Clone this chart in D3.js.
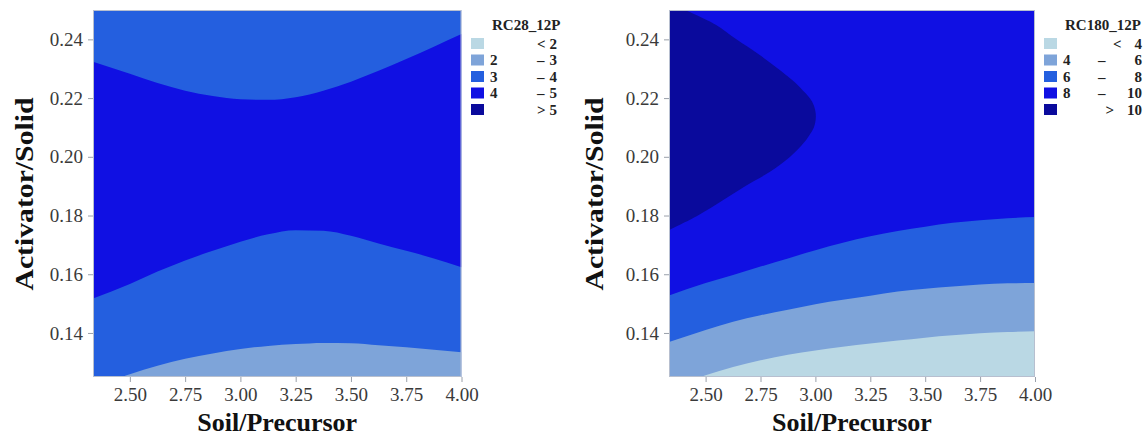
<!DOCTYPE html>
<html><head><meta charset="utf-8">
<script src="https://cdn.jsdelivr.net/npm/d3@7"></script>
<style>body{margin:0;background:#fff}svg{display:block}text{font-family:'Liberation Serif','Times New Roman',serif}</style>
</head><body>
<svg id="c" width="1148" height="437"></svg>
<script>
// ---- data ----
const xDomain = [2.3333, 4.0];
const yDomain = [0.125, 0.25];
const xTicks = [2.5, 2.75, 3.0, 3.25, 3.5, 3.75, 4.0];
const yTicks = [0.14, 0.16, 0.18, 0.20, 0.22, 0.24];

// x positions at which contour lines were read
const xSamples = [2.3333, 2.5, 2.625, 2.75, 2.875, 3.0, 3.125, 3.25, 3.375, 3.5, 3.625, 3.75, 3.875, 4.0];

// RC28_12P contour lines (Activator/Solid value at each xSample)
const rc28Level4Upper = [0.2324, 0.2283, 0.2251, 0.2225, 0.2207, 0.2196, 0.2194, 0.2203, 0.2225, 0.2256, 0.2293, 0.2333, 0.2375, 0.2418];
const rc28Level4Lower = [0.1517, 0.1567, 0.1609, 0.1647, 0.1680, 0.1711, 0.1736, 0.1750, 0.1748, 0.1731, 0.1705, 0.1680, 0.1654, 0.1624];
const rc28Level3Lower = [0.1215, 0.1259, 0.1288, 0.1312, 0.1330, 0.1345, 0.1356, 0.1362, 0.1366, 0.1365, 0.1358, 0.1351, 0.1343, 0.1334];

// RC180_12P contour lines
const rc180Level8 = [0.1528, 0.1570, 0.1597, 0.1626, 0.1654, 0.1682, 0.1707, 0.1729, 0.1747, 0.1762, 0.1775, 0.1784, 0.1791, 0.1795];
const rc180Level6 = [0.1369, 0.1410, 0.1438, 0.1460, 0.1479, 0.1498, 0.1513, 0.1527, 0.1541, 0.1551, 0.1558, 0.1565, 0.1569, 0.1570];
const rc180Level4 = [0.1215, 0.1256, 0.1284, 0.1307, 0.1326, 0.1340, 0.1353, 0.1364, 0.1374, 0.1384, 0.1392, 0.1399, 0.1403, 0.1406];
// level-10 region (Soil/Precursor edge read at each Activator/Solid value)
const rc180Level10Y = [0.25, 0.245, 0.24, 0.235, 0.23, 0.225, 0.2225, 0.22, 0.2175, 0.215, 0.2125, 0.21, 0.2075, 0.205, 0.20, 0.195, 0.19, 0.185, 0.18, 0.175];
const rc180Level10X = [2.406, 2.546, 2.640, 2.740, 2.830, 2.912, 2.944, 2.974, 2.993, 3.001, 3.001, 2.993, 2.974, 2.950, 2.885, 2.795, 2.680, 2.575, 2.465, 2.3333];

// legends
const rc28LegendLow = ["", "2", "3", "4", ""];
const rc28LegendHigh = ["< 2", "– 3", "– 4", "– 5", "> 5"];
const rc180LegendLow = ["", "4", "6", "8", ""];
const rc180LegendHigh = ["< 4", "– 6", "– 8", "– 10", "> 10"];
const bandColors = ["#bad8e4", "#7ea4d9", "#245fdf", "#1010e3", "#0a0a9c"];

// ---- drawing ----
const svg = d3.select("#c");
const serif = "'Liberation Serif','Times New Roman',serif";

function panel(opt) {
  const x = d3.scaleLinear().domain(xDomain).range([opt.left, opt.right]);
  const y = d3.scaleLinear().domain(yDomain).range([377, 10]);
  const g = svg.append("g");
  const clipId = "clip" + opt.id;
  svg.append("clipPath").attr("id", clipId).append("rect")
    .attr("x", opt.left).attr("y", 10).attr("width", opt.right - opt.left).attr("height", 367);
  const plot = g.append("g").attr("clip-path", `url(#${clipId})`);
  plot.append("rect").attr("x", opt.left).attr("y", 10)
    .attr("width", opt.right - opt.left).attr("height", 367).attr("fill", opt.base);
  opt.draw(plot, x, y);
  g.append("rect").attr("x", opt.left + 0.5).attr("y", 10.5)
    .attr("width", opt.right - opt.left - 1).attr("height", 366)
    .attr("fill", "none").attr("stroke", "#b7bfcf").attr("stroke-width", 1);

  const ax = g.append("g").attr("transform", "translate(0,377)")
    .call(d3.axisBottom(x).tickValues(xTicks).tickFormat(d3.format(".2f")).tickSize(5).tickPadding(6));
  const ay = g.append("g").attr("transform", `translate(${opt.left},0)`)
    .call(d3.axisLeft(y).tickValues(yTicks).tickFormat(d3.format(".2f")).tickSize(5).tickPadding(5));
  [ax, ay].forEach(a => {
    a.attr("font-family", serif).attr("font-size", 19);
    a.select(".domain").remove();
    a.selectAll(".tick line").attr("stroke", "#9aa0aa");
    a.selectAll(".tick text").attr("fill", "#3a3a3a").attr("font-family", serif)
      .style("font-family", serif).style("font-size", "19px");
  });

  g.append("text").attr("x", (opt.left + opt.right) / 2).attr("y", 431)
    .attr("text-anchor", "middle").attr("font-family", serif).style("font-size", "26px")
    .style("font-weight", "bold").attr("fill", "#111").text("Soil/Precursor");
  g.append("text").attr("transform", `translate(${opt.yTitleX},194) rotate(-90)`)
    .attr("text-anchor", "middle").attr("font-family", serif).style("font-size", "26px")
    .attr("textLength", 193).attr("lengthAdjust", "spacingAndGlyphs")
    .style("font-weight", "bold").attr("fill", "#111").text("Activator/Solid");

  // legend
  const lg = g.append("g");
  lg.append("text").attr("x", opt.legTitleX).attr("y", 30).attr("font-family", serif)
    .style("font-size", "15px").style("font-weight", "bold").attr("fill", "#222").text(opt.legTitle);
  opt.legHigh.forEach((s, i) => {
    const cy = 43.5 + i * 16.5;
    lg.append("rect").attr("x", opt.swX).attr("y", cy - 5.5).attr("width", 13).attr("height", 11)
      .attr("fill", bandColors[i]);
    const t = (sel) => sel.attr("font-family", serif).style("font-size", "15px")
      .style("font-weight", "bold").attr("fill", "#222").attr("dy", "0.35em");
    if (opt.legLow[i]) lg.append("text").attr("x", opt.swX + 19).attr("y", cy).call(t).text(opt.legLow[i]);
    const sym = s[0], num = s.slice(1).trim();
    const numEl = lg.append("text").attr("x", opt.legRight).attr("y", cy).attr("text-anchor", "end").call(t).text(num);
    if (sym === "–") {
      lg.append("text").attr("x", opt.dashX).attr("y", cy).call(t).text(sym);
    } else {
      const w = numEl.node().getComputedTextLength();
      lg.append("text").attr("x", opt.legRight - w - opt.symGap).attr("y", cy)
        .attr("text-anchor", "end").call(t).text(sym);
    }
  });
}

const pts = (arr) => xSamples.map((xv, i) => ({x: xv, v: arr[i]}));

panel({
  id: "a", left: 93, right: 461.5, base: bandColors[2], yTitleX: 33,
  legTitle: "RC28_12P", legTitleX: 492, swX: 471, legRight: 557, dashX: 537, symGap: 4,
  legLow: rc28LegendLow, legHigh: rc28LegendHigh,
  draw: (p, x, y) => {
    const mid = xSamples.map((xv, i) => ({x: xv, lo: rc28Level4Lower[i], hi: rc28Level4Upper[i]}));
    p.append("path").datum(mid).attr("fill", bandColors[3])
      .attr("d", d3.area().x(d => x(d.x)).y0(d => y(d.lo)).y1(d => y(d.hi)).curve(d3.curveMonotoneX));
    p.append("path").datum(pts(rc28Level3Lower)).attr("fill", bandColors[1])
      .attr("d", d3.area().x(d => x(d.x)).y0(y(yDomain[0]) + 2).y1(d => y(d.v)).curve(d3.curveMonotoneX));
  }
});

panel({
  id: "b", left: 669, right: 1035, base: bandColors[3], yTitleX: 603,
  legTitle: "RC180_12P", legTitleX: 1065, swX: 1044, legRight: 1142, dashX: 1098, symGap: 13,
  legLow: rc180LegendLow, legHigh: rc180LegendHigh,
  draw: (p, x, y) => {
    const nose = rc180Level10Y.map((yv, i) => ({y: yv, x: rc180Level10X[i]}));
    p.append("path").datum(nose).attr("fill", bandColors[4])
      .attr("d", d3.area().y(d => y(d.y)).x0(x(xDomain[0]) - 2).x1(d => x(d.x)).curve(d3.curveCatmullRom.alpha(0.5)));
    [[rc180Level8, 2], [rc180Level6, 1], [rc180Level4, 0]].forEach(([arr, ci]) => {
      p.append("path").datum(pts(arr)).attr("fill", bandColors[ci])
        .attr("d", d3.area().x(d => x(d.x)).y0(y(yDomain[0]) + 2).y1(d => y(d.v)).curve(d3.curveMonotoneX));
    });
  }
});
</script>
</body></html>
